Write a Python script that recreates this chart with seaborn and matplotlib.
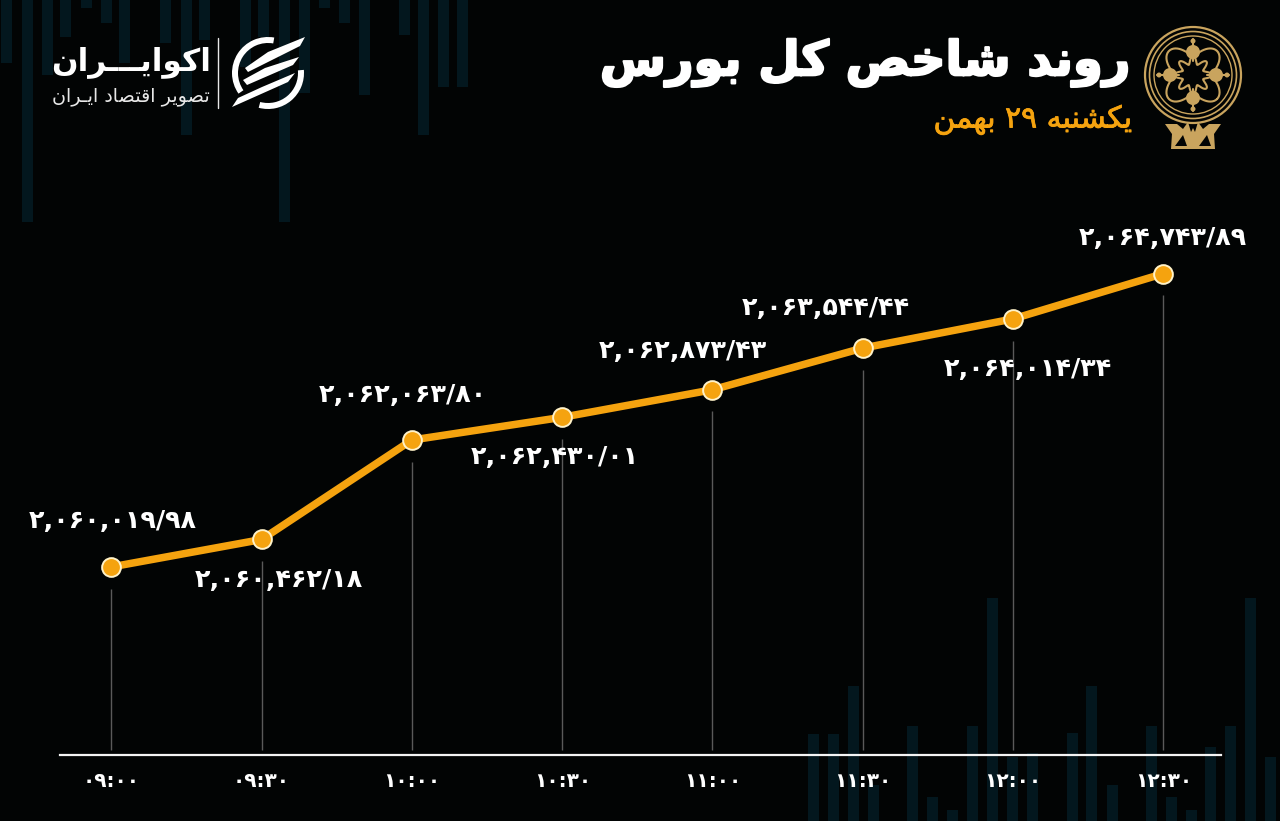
import numpy as np
import pandas as pd
import matplotlib
matplotlib.use("Agg")
import matplotlib.pyplot as plt
import matplotlib.patheffects as pe
from matplotlib.patches import Circle, Polygon, Wedge
import seaborn as sns

# ---------- data ----------
times = ["۰۹:۰۰", "۰۹:۳۰", "۱۰:۰۰", "۱۰:۳۰", "۱۱:۰۰", "۱۱:۳۰", "۱۲:۰۰", "۱۲:۳۰"]
minutes = [0, 30, 60, 90, 120, 150, 180, 210]
index_values = [2060019.98, 2060462.18, 2062063.80, 2062430.01,
                2062873.43, 2063544.44, 2064014.34, 2064743.89]
value_labels = ["۲,۰۶۰,۰۱۹/۹۸", "۲,۰۶۰,۴۶۲/۱۸", "۲,۰۶۲,۰۶۳/۸۰", "۲,۰۶۲,۴۳۰/۰۱",
                "۲,۰۶۲,۸۷۳/۴۳", "۲,۰۶۳,۵۴۴/۴۴", "۲,۰۶۴,۰۱۴/۳۴", "۲,۰۶۴,۷۴۳/۸۹"]
title_text = "روند شاخص کل بورس"
subtitle_text = "یکشنبه ۲۹ بهمن"
brand_text = "اکوایـــران"
brand_sub_text = "تصویر اقتصاد ایـران"

# decorative backdrop stripes
top_stripe_x = [6, 27, 47, 65, 86, 106, 124, 165, 186, 204, 245, 263, 284, 304, 324, 344, 364, 404, 423, 443, 462]
top_stripe_end = [63, 222, 75, 37, 8, 23, 63, 43, 135, 40, 67, 37, 222, 93, 8, 23, 95, 35, 135, 87, 87]
bot_stripe_x = [813, 833, 853, 873, 912, 932, 952, 972, 992, 1012, 1032, 1072, 1091, 1112, 1151, 1171, 1191, 1210, 1230, 1250, 1270]
bot_stripe_top = [734, 734, 686, 785, 726, 797, 810, 726, 598, 757, 753, 733, 686, 785, 726, 797, 810, 747, 726, 598, 757]

# label centres, in picture pixels
label_x = [113, 279, 403, 555, 683, 826, 1028, 1163]
label_y = [521, 580, 395, 457, 351, 308, 369, 238]

BG = "#020404"
ORANGE = "#f5a30f"
GOLD = "#c9a45e"
STRIPE = "#03171e"

# ---------- Persian shaping (matplotlib lays glyphs out unshaped, left to right) ----------
FORMS = {
    "ا": ("\uFE8D", "\uFE8E"), "د": ("\uFEA9", "\uFEAA"), "ر": ("\uFEAD", "\uFEAE"), "و": ("\uFEED", "\uFEEE"),
    "ب": ("\uFE8F", "\uFE90", "\uFE91", "\uFE92"), "ت": ("\uFE95", "\uFE96", "\uFE97", "\uFE98"),
    "خ": ("\uFEA5", "\uFEA6", "\uFEA7", "\uFEA8"), "س": ("\uFEB1", "\uFEB2", "\uFEB3", "\uFEB4"),
    "ش": ("\uFEB5", "\uFEB6", "\uFEB7", "\uFEB8"), "ص": ("\uFEB9", "\uFEBA", "\uFEBB", "\uFEBC"),
    "ق": ("\uFED5", "\uFED6", "\uFED7", "\uFED8"), "ک": ("\uFB8E", "\uFB8F", "\uFB90", "\uFB91"),
    "ل": ("\uFEDD", "\uFEDE", "\uFEDF", "\uFEE0"), "م": ("\uFEE1", "\uFEE2", "\uFEE3", "\uFEE4"),
    "ن": ("\uFEE5", "\uFEE6", "\uFEE7", "\uFEE8"), "ه": ("\uFEE9", "\uFEEA", "\uFEEB", "\uFEEC"),
    "ی": ("\uFBFC", "\uFBFD", "\uFBFE", "\uFBFF"),
}

def shape_word(word):
    out = []
    for i, ch in enumerate(word):
        if ch not in FORMS:
            out.append(ch)
            continue
        prev = word[i - 1] if i else ""
        nxt = word[i + 1] if i + 1 < len(word) else ""
        joins_prev = prev == "ـ" or (prev in FORMS and len(FORMS[prev]) == 4)
        joins_next = nxt == "ـ" or nxt in FORMS
        forms = FORMS[ch]
        if len(forms) == 2:
            out.append(forms[1] if joins_prev else forms[0])
        elif joins_prev and joins_next:
            out.append(forms[3])
        elif joins_prev:
            out.append(forms[1])
        elif joins_next:
            out.append(forms[2])
        else:
            out.append(forms[0])
    return "".join(reversed(out))

def shape(text):
    return " ".join(reversed([shape_word(w) if w[0] in FORMS else w for w in text.split(" ")]))

# ---------- figure ----------
sns.set_theme(style="dark", rc={"figure.facecolor": BG, "axes.facecolor": "none"})
plt.rcParams["font.family"] = ["DejaVu Sans"]
W, H = 1280, 821
fig = plt.figure(figsize=(W / 100, H / 100), dpi=100, facecolor=BG)

# picture-pixel layer for the backdrop and branding
bg = fig.add_axes([0, 0, 1, 1], zorder=0)
bg.set_xlim(0, W)
bg.set_ylim(H, 0)
bg.axis("off")
bg.bar(top_stripe_x, top_stripe_end, width=11, bottom=0, color=STRIPE, linewidth=0)
bg.bar(bot_stripe_x, [H - t for t in bot_stripe_top], width=11, bottom=bot_stripe_top, color=STRIPE, linewidth=0)

# main chart
ax = fig.add_axes([60 / W, (H - 755) / H, (1221 - 60) / W, (755 - 200) / H], zorder=1)
ax.patch.set_alpha(0)
df = pd.DataFrame({"minute": minutes, "value": index_values})
ax.set_xlim(-10.24, 221.5)
ax.set_ylim(2056992, 2065929)
drop_gap = 350
ax.vlines(df["minute"], 2057070, df["value"] - drop_gap, color="#5a5a5a", linewidth=1, zorder=1)
sns.lineplot(data=df, x="minute", y="value", ax=ax, color=ORANGE, linewidth=5.4,
             marker="o", markersize=13.5, markerfacecolor=ORANGE,
             markeredgecolor="#fff2c8", markeredgewidth=1.4, zorder=3, solid_capstyle="butt")
ax.set_xlabel("")
ax.set_ylabel("")
ax.set_yticks([])
ax.set_xticks(minutes)
ax.set_xticklabels(times, color="white", fontweight="bold", fontsize=14.5)
ax.tick_params(axis="x", length=0, pad=12)
ax.grid(False)
for side in ["top", "left", "right"]:
    ax.spines[side].set_visible(False)
ax.spines["bottom"].set_color("#f4f4f4")
ax.spines["bottom"].set_linewidth(1.6)

# overlay layer for text
fg = fig.add_axes([0, 0, 1, 1], zorder=2)
fg.set_xlim(0, W)
fg.set_ylim(H, 0)
fg.axis("off")
for x, y, t in zip(label_x, label_y, value_labels):
    fg.text(x, y, t, color="white", fontsize=18.3, fontweight="bold", ha="center", va="center")

fg.text(1130, 63, shape(title_text), color="white", fontsize=34.5, fontweight="bold", ha="right", va="center",
        path_effects=[pe.withStroke(linewidth=1.6, foreground="white")])
fg.text(1133, 120, shape(subtitle_text), color=ORANGE, fontsize=21.5, ha="right", va="center",
        path_effects=[pe.withStroke(linewidth=0.6, foreground=ORANGE)])
fg.text(211, 62, shape(brand_text), color="white", fontsize=22.5, fontweight="bold", ha="right", va="center")
fg.text(210, 97, shape(brand_sub_text), color="#e8e8e8", fontsize=13.8, ha="right", va="center")
fg.plot([218, 218], [38, 108], color="#e8e8e8", lw=1)

# logo
for theta1, theta2 in [(145, 280), (-5, 105)]:
    fg.add_patch(Wedge((268, 73), 36, theta1, theta2, width=6, facecolor="white", edgecolor="none"))
for pts in [[(305, 37), (300, 46), (248, 72), (245, 68), (268, 52)],
            [(299, 57), (293, 65), (247, 85), (243, 80), (265, 68)],
            [(295, 73), (288, 82), (232, 107), (238, 98), (262, 87)]]:
    fg.add_patch(Polygon(pts, closed=True, facecolor="white", edgecolor="none"))

# emblem
cx, cy = 1193, 75
for rad, lw in [(48, 1.6), (43.5, 1.2), (39, 1.0)]:
    fg.add_patch(Circle((cx, cy), rad, fill=False, edgecolor=GOLD, linewidth=lw))
ang = np.linspace(0, 2 * np.pi, 240)
r_outer = 27 + 7 * np.cos(4 * ang)
fg.plot(cx + r_outer * np.cos(ang + np.pi / 4), cy + r_outer * np.sin(ang + np.pi / 4), color=GOLD, lw=1.5)
r_inner = 15 + 4 * np.cos(8 * ang)
fg.plot(cx + r_inner * np.cos(ang), cy + r_inner * np.sin(ang), color=GOLD, lw=1.5)
for dx, dy in [(0, -1), (0, 1), (-1, 0), (1, 0)]:
    fg.add_patch(Circle((cx + 23 * dx, cy + 23 * dy), 7, facecolor=GOLD, edgecolor="none"))
    fg.add_patch(Circle((cx + 34 * dx, cy + 34 * dy), 2.5, facecolor=GOLD, edgecolor="none"))
    fg.plot([cx + 14 * dx, cx + 36 * dx], [cy + 14 * dy, cy + 36 * dy], color=GOLD, lw=1.5)
fg.add_patch(Polygon([(1165, 124), (1177, 124), (1183, 129), (1188, 122), (1191, 132), (1193, 128), (1195, 132),
                      (1198, 122), (1203, 129), (1209, 124), (1221, 124), (1214, 134), (1215, 149), (1171, 149),
                      (1172, 134)], closed=True, facecolor=GOLD, edgecolor="none"))
for bx in [1181, 1205]:
    fg.add_patch(Polygon([(bx - 6, 146), (bx + 6, 146), (bx + 2, 135)], closed=True, facecolor=BG, edgecolor="none"))

fig.savefig("out.png", dpi=100, facecolor=BG)
